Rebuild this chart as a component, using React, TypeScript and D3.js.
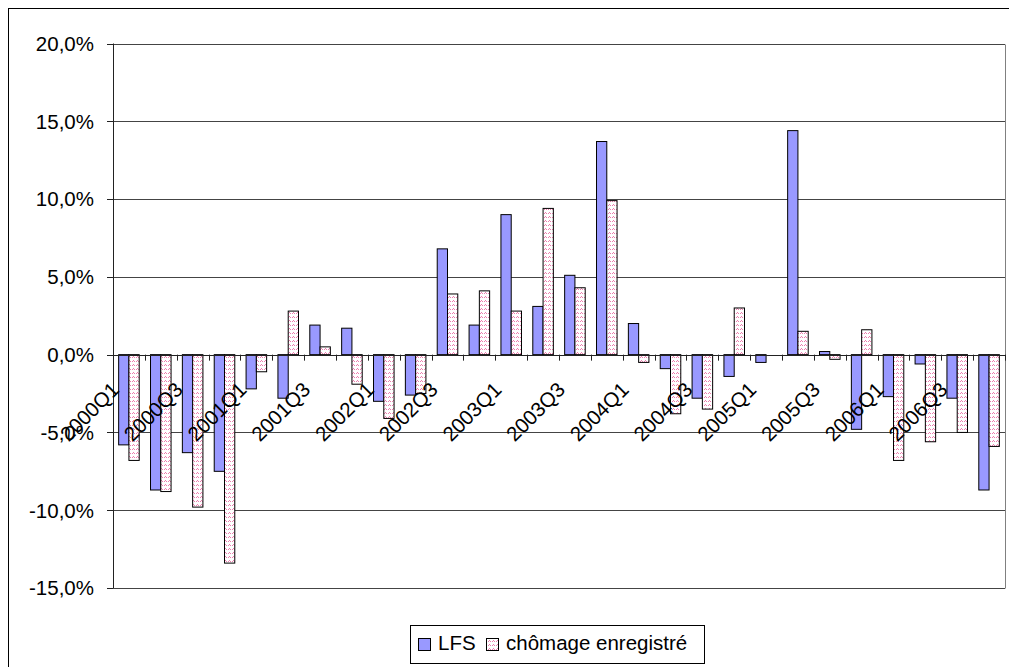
import React from "react";
import * as d3 from "d3";

const categories = [
  "2000Q1", "2000Q2", "2000Q3", "2000Q4",
  "2001Q1", "2001Q2", "2001Q3", "2001Q4",
  "2002Q1", "2002Q2", "2002Q3", "2002Q4",
  "2003Q1", "2003Q2", "2003Q3", "2003Q4",
  "2004Q1", "2004Q2", "2004Q3", "2004Q4",
  "2005Q1", "2005Q2", "2005Q3", "2005Q4",
  "2006Q1", "2006Q2", "2006Q3", "2006Q4",
];
const shownLabels = [
  "2000Q1", "2000Q3", "2001Q1", "2001Q3", "2002Q1", "2002Q3", "2003Q1",
  "2003Q3", "2004Q1", "2004Q3", "2005Q1", "2005Q3", "2006Q1", "2006Q3",
];
const lfs = [
  -5.8, -8.7, -6.3, -7.5, -2.2, -2.8, 1.9, 1.7, -3.0, -2.6, 6.8, 1.9, 9.0, 3.1,
  5.1, 13.7, 2.0, -0.9, -2.8, -1.4, -0.5, 14.4, 0.2, -4.8, -2.7, -0.6, -2.8, -8.7,
];
const chomage = [
  -6.8, -8.8, -9.8, -13.4, -1.1, 2.8, 0.5, -1.9, -4.1, -2.5, 3.9, 4.1, 2.8, 9.4,
  4.3, 9.9, -0.5, -3.8, -3.5, 3.0, 0, 1.5, -0.3, 1.6, -6.8, -5.6, -5.0, -5.9,
];
const yTicks = [-15, -10, -5, 0, 5, 10, 15, 20];
const seriesNames = ["LFS", "chômage enregistré"];

const locale = d3.formatLocale({
  decimal: ",",
  thousands: " ",
  grouping: [3],
  currency: ["", "€"],
  minus: "-",
});
const fmt = locale.format(".1f");

export default function App() {
  const W = 1009;
  const H = 667;
  const left = 113;
  const right = 1005;
  const top = 43.5;
  const bottom = 588;

  const x0 = d3.scaleBand<string>().domain(categories).range([left, right]).padding(0);
  const x1 = d3
    .scaleBand<string>()
    .domain(seriesNames)
    .range([0, x0.bandwidth()])
    .paddingInner(0)
    .paddingOuter(0.55);
  const y = d3.scaleLinear().domain([-15, 20]).range([bottom, top]);
  const y0 = y(0);

  const font = "'Liberation Sans', Arial, sans-serif";
  const series = [
    { name: seriesNames[0], values: lfs, fill: "#9999FF" },
    { name: seriesNames[1], values: chomage, fill: "url(#wave)" },
  ];
  const wavePixels = [
    [0, 1], [1, 0], [2, 1],
  ];

  return (
    <svg
      width={W}
      height={H}
      style={{ position: "absolute", left: 0, top: 0, display: "block" }}
      fontFamily={font}
    >
      <defs>
        <pattern id="wave" width="4" height="4" patternUnits="userSpaceOnUse">
          <rect width="4" height="4" fill="#ffffff" />
          {wavePixels.map(([px, py]) => (
            <rect key={px + "-" + py} x={px} y={py} width={1} height={1} fill="#ec7fae" shapeRendering="crispEdges" />
          ))}
        </pattern>
      </defs>
      <rect x={0} y={0} width={W} height={H} fill="#ffffff" />
      {/* outer chart frame */}
      <rect x={8.5} y={8.5} width={W + 20} height={H + 20} fill="#ffffff" stroke="#000" strokeWidth={1} />

      {/* gridlines */}
      {yTicks.map((t) => (
        <line
          key={"g" + t}
          x1={left}
          x2={right}
          y1={Math.round(y(t)) + 0.5}
          y2={Math.round(y(t)) + 0.5}
          stroke={t === 0 ? "none" : "#444"}
          strokeWidth={1}
        />
      ))}
      {/* plot area right border */}
      <line x1={right + 0.5} x2={right + 0.5} y1={Math.round(top) + 0.5} y2={Math.round(bottom) + 0.5} stroke="#808080" />

      {/* bars */}
      {series.map((s) =>
        s.values.map((v, i) =>
          v === 0 ? null : (
            <rect
              key={s.name + i}
              x={(x0(categories[i]) as number) + (x1(s.name) as number)}
              y={Math.min(y(v), y0)}
              width={x1.bandwidth()}
              height={Math.abs(y(v) - y0)}
              fill={s.fill}
              stroke="#000"
              strokeWidth={1}
            />
          )
        )
      )}

      {/* y axis */}
      <line x1={left + 0.5} x2={left + 0.5} y1={top} y2={bottom} stroke="#222" />
      {yTicks.map((t) => (
        <g key={"yt" + t}>
          <line x1={left - 6} x2={left} y1={Math.round(y(t)) + 0.5} y2={Math.round(y(t)) + 0.5} stroke="#222" />
          <text
            x={94}
            y={y(t)}
            dy="0.36em"
            textAnchor="end"
            fontSize={20.5}
            fill="#000"
          >
            {fmt(t) + "%"}
          </text>
        </g>
      ))}

      {/* x axis at zero */}
      <line x1={left} x2={right} y1={Math.round(y0) + 0.5} y2={Math.round(y0) + 0.5} stroke="#222" />
      {categories.map((c) => (
        <line
          key={"xt" + c}
          x1={Math.round(x0(c) as number) + 0.5}
          x2={Math.round(x0(c) as number) + 0.5}
          y1={y0}
          y2={y0 + 6}
          stroke="#222"
        />
      ))}
      <line x1={right + 0.5} x2={right + 0.5} y1={y0} y2={y0 + 6} stroke="#222" />
      {shownLabels.map((c) => {
        const cx = (x0(c) as number) + x0.bandwidth() / 2 - 8.5;
        const cy = 391;
        return (
          <g key={"xl" + c} transform={`translate(${cx},${cy})`}>
            <text transform="rotate(-45)" textAnchor="end" fontSize={20.5} fill="#000">
              {c}
            </text>
          </g>
        );
      })}

      {/* legend */}
      <rect x={410.5} y={625.5} width={294} height={38} fill="#ffffff" stroke="#000" strokeWidth={1} />
      <rect x={418.5} y={638.5} width={12} height={12} fill="#9999FF" stroke="#000" />
      <text x={438} y={650} fontSize={20.5} fill="#000">{seriesNames[0]}</text>
      <rect x={486.5} y={638.5} width={12} height={12} fill="url(#wave)" stroke="#000" />
      <text x={506} y={650} fontSize={20.5} fill="#000">{seriesNames[1]}</text>
    </svg>
  );
}
